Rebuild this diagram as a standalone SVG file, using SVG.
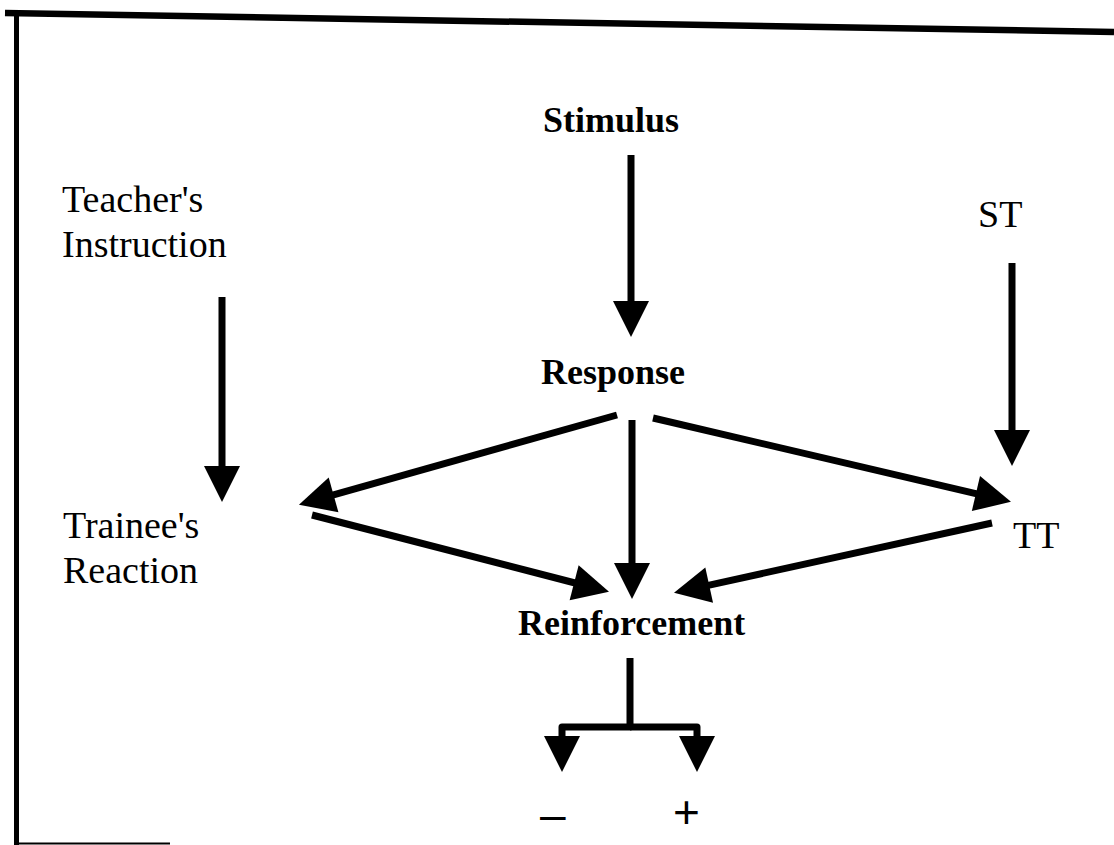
<svg xmlns="http://www.w3.org/2000/svg" width="1114" height="845" viewBox="0 0 1114 845">
<defs>
<style>
.lbl{font-family:"Liberation Serif","Times New Roman",serif;font-size:38px;fill:#000}
.b{font-weight:bold;font-size:36px}
.sym{font-family:"Liberation Sans",Arial,sans-serif;font-size:46px;fill:#000}
.edge{stroke:#000;stroke-width:7;fill:none;marker-end:url(#ah)}
.frame{stroke:#000;fill:none}
</style>
<marker id="ah" markerUnits="userSpaceOnUse" markerWidth="40" markerHeight="40" refX="1" refY="18" orient="auto" overflow="visible">
<path d="M0,0 L36,18 L0,36 Z" fill="#000"/>
</marker>
</defs>
<rect width="1114" height="845" fill="#fff"/>
<g id="frame">
<line class="frame" x1="5" y1="13" x2="1114" y2="32" stroke-width="6.5"/>
<line class="frame" x1="16.5" y1="11" x2="16.5" y2="845" stroke-width="5"/>
<line class="frame" x1="15" y1="843.5" x2="170" y2="843.5" stroke-width="2" stroke="#555"/>
</g>
<g id="connectors">
<line class="edge" x1="631" y1="155" x2="631" y2="302"/>
<line class="edge" x1="222" y1="297" x2="222" y2="467"/>
<line class="edge" x1="1012" y1="263" x2="1012" y2="431"/>
<line class="edge" x1="617" y1="415" x2="332.6" y2="495.2"/>
<line class="edge" x1="632" y1="420" x2="632" y2="564"/>
<line class="edge" x1="312" y1="515" x2="575.1" y2="583"/>
<line class="edge" x1="653" y1="418" x2="976.9" y2="493.8"/>
<line class="edge" x1="992" y1="523" x2="708.2" y2="585.3"/>
<path class="edge" d="M630,658 V727 H562 V737" stroke-linejoin="round"/>
<path class="edge" d="M630,727 H697 V737" stroke-linejoin="round"/>
</g>
<g id="stimulus"><text class="lbl b" x="543" y="132">Stimulus</text></g>
<g id="response"><text class="lbl b" x="541" y="384">Response</text></g>
<g id="reinforcement"><text class="lbl b" x="518" y="635">Reinforcement</text></g>
<g id="teacher"><text class="lbl" x="62" y="212">Teacher's</text><text class="lbl" x="62" y="257">Instruction</text></g>
<g id="trainee"><text class="lbl" x="63" y="538">Trainee's</text><text class="lbl" x="63" y="583">Reaction</text></g>
<g id="st"><text class="lbl" x="978" y="227">ST</text></g>
<g id="tt"><text class="lbl" x="1013" y="548">TT</text></g>
<g id="minus"><text class="sym" x="540" y="830">–</text></g>
<g id="plus"><text class="sym" x="673" y="828">+</text></g>
</svg>
